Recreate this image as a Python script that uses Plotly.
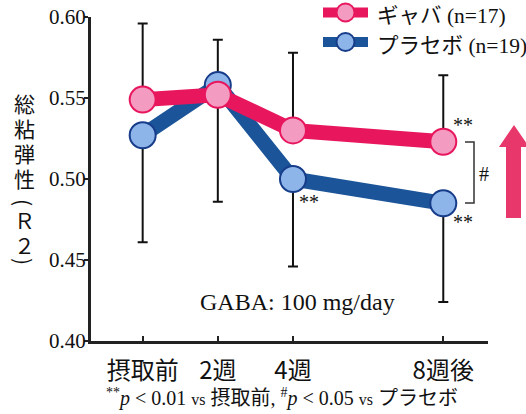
import plotly.graph_objects as go

# ---- data ----
weeks = [0, 2, 4, 8]
week_labels = ["摂取前", "2週", "4週", "8週後"]
gaba = [0.549, 0.552, 0.530, 0.523]
placebo = [0.527, 0.558, 0.500, 0.485]
gaba_err_up = [0.047, 0.034, 0.048, 0.041]
placebo_err_down = [0.066, 0.072, 0.054, 0.061]
y_ticks = [0.40, 0.45, 0.50, 0.55, 0.60]

# ---- figure geometry (pixels) ----
W, H = 526, 414
ML, MR, MT, MB = 91, 38, 17, 73
PW, PH = W - ML - MR, H - MT - MB


def px(x):
    return (x - ML) / PW


def py(y):
    return (H - MB - y) / PH


PINK_LINE = "#E8175D"
PINK_FILL = "#F49BC2"
BLUE_LINE = "#1B5499"
BLUE_EDGE = "#163C8A"
BLUE_FILL = "#8DB5E9"
ARROW = "#E8376B"

SERIF = "Liberation Serif, serif"
JP = "Noto Sans CJK JP, sans-serif"


def note(x, y, text, size, family=SERIF, xanchor="center", **kw):
    return dict(xref="paper", yref="paper", x=x, y=y, text=text,
                xanchor=xanchor, yanchor="middle",
                font=dict(family=family, size=size, color="#111"),
                showarrow=False, **kw)


fig = go.Figure()

# error bars drawn beneath the lines
fig.add_trace(go.Scatter(
    x=weeks, y=gaba, mode="markers",
    marker=dict(size=1, color="rgba(0,0,0,0)"),
    error_y=dict(type="data", symmetric=False, array=gaba_err_up,
                 arrayminus=[0] * len(weeks), color="#111", thickness=2, width=5),
    showlegend=False, hoverinfo="skip"))
fig.add_trace(go.Scatter(
    x=weeks, y=placebo, mode="markers",
    marker=dict(size=1, color="rgba(0,0,0,0)"),
    error_y=dict(type="data", symmetric=False, array=[0] * len(weeks),
                 arrayminus=placebo_err_down, color="#111", thickness=2, width=5),
    showlegend=False, hoverinfo="skip"))

fig.add_trace(go.Scatter(
    x=weeks, y=placebo, mode="lines+markers", name="プラセボ (n=19)",
    line=dict(color=BLUE_LINE, width=15),
    marker=dict(size=26, color=BLUE_FILL, line=dict(color=BLUE_EDGE, width=2)),
    showlegend=False))
fig.add_trace(go.Scatter(
    x=weeks, y=gaba, mode="lines+markers", name="ギャバ (n=17)",
    line=dict(color=PINK_LINE, width=15),
    marker=dict(size=26, color=PINK_FILL, line=dict(color=PINK_LINE, width=2)),
    showlegend=False))

shapes = []
annotations = []

# y tick labels, placed on the y scale right against the tick marks
for v in y_ticks:
    annotations.append(dict(xref="paper", yref="y", x=px(88), y=v, text=f"{v:.2f}",
                            xanchor="right", yanchor="middle",
                            font=dict(family=SERIF, size=21, color="#111"),
                            showarrow=False))

# legend
for cy, lc, fc, ec, jp, n in [
    (12.5, PINK_LINE, PINK_FILL, PINK_LINE, "ギャバ", "(n=17)"),
    (42, BLUE_LINE, BLUE_FILL, BLUE_EDGE, "プラセボ", "(n=19)"),
]:
    shapes.append(dict(type="rect", xref="paper", yref="paper",
                       x0=px(323), x1=px(368), y0=py(cy + 5), y1=py(cy - 5),
                       fillcolor=lc, line=dict(width=0)))
    shapes.append(dict(type="circle", xref="paper", yref="paper",
                       x0=px(336.5), x1=px(354.5), y0=py(cy + 9), y1=py(cy - 9),
                       fillcolor=fc, line=dict(color=ec, width=2)))
    annotations.append(note(px(375), py(cy + 1.5),
                            f"<span style='font-family:{JP}'>{jp}</span> {n}",
                            21.5, xanchor="left"))

# significance bracket between groups at 8 weeks
shapes.append(dict(type="path", xref="paper", yref="paper",
                   path=f"M {px(465)} {py(142)} L {px(474)} {py(142)} L {px(474)} {py(203)} L {px(465)} {py(203)}",
                   line=dict(color="#333", width=1.5)))
annotations.append(note(px(484), py(174), "#", 20))

# upward arrow
ax = [514, 499, 506, 506, 521, 521, 529]
ay = [125, 147, 147, 218, 218, 147, 147]
path = "M " + " L ".join(f"{px(a)} {py(b)}" for a, b in zip(ax, ay)) + " Z"
shapes.append(dict(type="path", xref="paper", yref="paper", path=path,
                   fillcolor=ARROW, line=dict(width=0)))

# significance markers
for xv, yv, dx, dy in [(4, placebo[2], 16, -23), (8, gaba[3], 20, 17), (8, placebo[3], 20, -19)]:
    annotations.append(dict(x=xv, y=yv, xref="x", yref="y", xshift=dx, yshift=dy,
                            xanchor="center", yanchor="middle",
                            text="**", font=dict(family=SERIF, size=20, color="#111"),
                            showarrow=False))

# dose note
annotations.append(note(px(297), py(302), "GABA: 100 mg/day", 24))

# footnote
annotations.append(note(
    px(282), py(397),
    ("<sup>**</sup><i>p</i> &lt; 0.01 <span style='font-size:16px'>vs</span> "
     f"<span style='font-family:{JP}'>摂取前</span>, "
     "<sup>#</sup><i>p</i> &lt; 0.05 <span style='font-size:16px'>vs</span> "
     f"<span style='font-family:{JP}'>プラセボ</span>"),
    20))

# vertical y-axis title; brackets are turned to sit in the column
ylabel_chars = ["総", "粘", "弾", "性", "(", "Ｒ", "２", ")"]
ylabel_pos = [103, 128, 153, 178, 202, 220, 245, 261]
ylabel_rot = [0, 0, 0, 0, 90, 0, 0, 90]
for ch, yy, rot in zip(ylabel_chars, ylabel_pos, ylabel_rot):
    annotations.append(note(px(24), py(yy), ch, 21, family=JP, textangle=rot))

fig.update_layout(
    width=W, height=H,
    margin=dict(l=ML, r=MR, t=MT, b=MB),
    paper_bgcolor="white", plot_bgcolor="white",
    shapes=shapes, annotations=annotations,
    xaxis=dict(range=[-1.375, 9.19], tickvals=weeks, ticktext=week_labels,
               ticks="inside", ticklen=5, tickwidth=2, tickcolor="#222",
               showline=True, linewidth=2.5, linecolor="#222", showgrid=False,
               zeroline=False, ticklabelstandoff=6,
               tickfont=dict(family=JP, size=24, color="#111")),
    yaxis=dict(range=[0.40, 0.60], tickvals=y_ticks, showticklabels=False,
               ticks="outside", ticklen=4, tickwidth=2, tickcolor="#222",
               showline=True, linewidth=2.5, linecolor="#222", showgrid=False,
               zeroline=False),
)

fig.write_html("out.html")
